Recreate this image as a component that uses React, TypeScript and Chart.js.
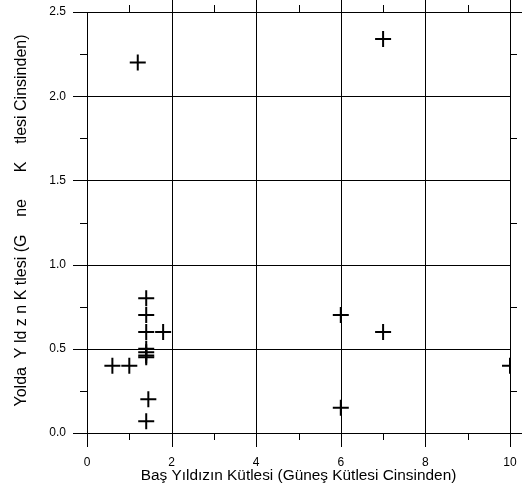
import React, { useEffect, useRef } from "react";
import { Chart, registerables } from "chart.js";

Chart.register(...registerables);

const xTitle = "Baş Yıldızın Kütlesi (Güneş Kütlesi Cinsinden)";
const yTitle = "Yolda  Y ld z n K tlesi (G    ne      K    tlesi Cinsinden)";

const primaryMass = [1.2, 7, 1.4, 1.4, 1.4, 1.8, 1.4, 1.4, 1.4, 1.4, 0.6, 1.0, 1.45, 1.4, 6, 7, 6, 10];
const companionMass = [2.2, 2.34, 0.8, 0.7, 0.6, 0.6, 0.5, 0.48, 0.46, 0.45, 0.4, 0.4, 0.2, 0.07, 0.7, 0.6, 0.15, 0.4];

const xMajorTicks = [0, 2, 4, 6, 8, 10];
const xMinorTicks = [1, 3, 5, 7, 9];
const yMajorTicks = [0, 0.5, 1.0, 1.5, 2.0, 2.5];
const yMinorTicks = [0.25, 0.75, 1.25, 1.75, 2.25];

const FONT = "'Liberation Sans', Arial, sans-serif";

const gridPlugin = {
  id: "customGrid",
  beforeDatasetsDraw(chart: any) {
    const ctx = chart.ctx;
    const xs = chart.scales.x;
    const ys = chart.scales.y;
    const { left, right, top, bottom } = chart.chartArea;
    const crisp = (v: number) => Math.round(v) + 0.5;
    ctx.save();
    ctx.strokeStyle = "#000";
    ctx.lineWidth = 1;
    ctx.beginPath();
    xMajorTicks.forEach((v) => {
      const px = crisp(xs.getPixelForValue(v));
      const t = v === 0 ? top : top - 14;
      ctx.moveTo(px, t);
      ctx.lineTo(px, bottom + 14);
    });
    yMajorTicks.forEach((v) => {
      const py = crisp(ys.getPixelForValue(v));
      const r = v === 0 || v === 2.5 ? right + 14 : right;
      ctx.moveTo(left - 14, py);
      ctx.lineTo(r, py);
    });
    xMinorTicks.forEach((v) => {
      const px = crisp(xs.getPixelForValue(v));
      ctx.moveTo(px, bottom);
      ctx.lineTo(px, bottom + 7);
      ctx.moveTo(px, top);
      ctx.lineTo(px, top - 7);
    });
    yMinorTicks.forEach((v) => {
      const py = crisp(ys.getPixelForValue(v));
      ctx.moveTo(left, py);
      ctx.lineTo(left - 7, py);
      ctx.moveTo(right, py);
      ctx.lineTo(right + 7, py);
    });
    ctx.stroke();
    ctx.restore();
  },
  afterDraw(chart: any) {
    const ctx = chart.ctx;
    const { top, bottom } = chart.chartArea;
    ctx.save();
    ctx.translate(22, (top + bottom) / 2 - 2);
    ctx.rotate(-Math.PI / 2);
    ctx.fillStyle = "#000";
    ctx.font = `16px ${FONT}`;
    ctx.textAlign = "center";
    ctx.textBaseline = "middle";
    ctx.fillText(yTitle, 0, 0);
    ctx.restore();
  },
};

export default function App() {
  const ref = useRef<HTMLCanvasElement | null>(null);
  useEffect(() => {
    document.body.style.margin = "0";
    const points = primaryMass.map((x, i) => ({ x, y: companionMass[i] }));
    const chart = new Chart(ref.current as HTMLCanvasElement, {
      type: "scatter",
      data: {
        datasets: [
          {
            data: points,
            pointStyle: "cross",
            pointRadius: 8,
            pointHoverRadius: 8,
            borderColor: "#000",
            backgroundColor: "#000",
            borderWidth: 2,
          },
        ],
      },
      options: {
        animation: false,
        responsive: false,
        devicePixelRatio: 1,
        layout: { autoPadding: false, padding: { left: 0, top: 12, right: 12, bottom: 0 } },
        plugins: { legend: { display: false }, tooltip: { enabled: false } },
        scales: {
          x: {
            type: "linear",
            min: 0,
            max: 10,
            grid: { display: false, drawTicks: false },
            border: { display: false },
            ticks: {
              stepSize: 2,
              padding: 22,
              color: "#000",
              font: { family: FONT, size: 12 },
              maxRotation: 0,
            },
            title: {
              display: true,
              text: xTitle,
              color: "#000",
              font: { family: FONT, size: 15.4 },
              padding: { top: 0, bottom: 8 },
            },
            afterFit(scale: any) {
              scale.height = 60;
              scale.paddingLeft = 0;
              scale.paddingRight = 0;
              scale.paddingTop = 0;
              scale.paddingBottom = 0;
            },
          },
          y: {
            type: "linear",
            min: 0,
            max: 2.5,
            grid: { display: false, drawTicks: false },
            border: { display: false },
            ticks: {
              stepSize: 0.5,
              padding: 21,
              color: "#000",
              font: { family: FONT, size: 12 },
              callback: (v: any) => Number(v).toFixed(1),
            },
            title: { display: false },
            afterFit(scale: any) {
              scale.width = 87;
              scale.paddingLeft = 0;
              scale.paddingRight = 0;
              scale.paddingTop = 0;
              scale.paddingBottom = 0;
            },
          },
        },
      },
      plugins: [gridPlugin],
    });
    return () => chart.destroy();
  }, []);
  return (
    <div style={{ position: "absolute", left: 0, top: 0, width: 522, height: 493, background: "#fff" }}>
      <canvas ref={ref} width={522} height={493} />
    </div>
  );
}
